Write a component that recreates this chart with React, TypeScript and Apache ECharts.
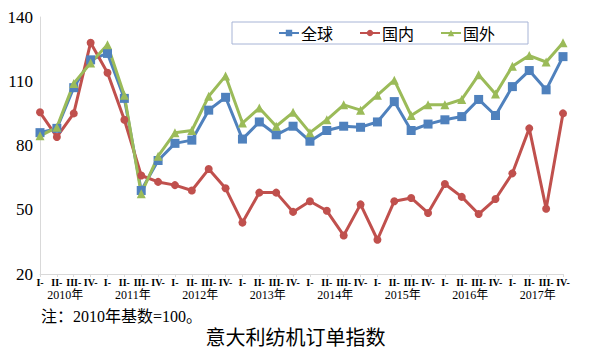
import React, { useEffect, useRef } from "react";
import * as echarts from "echarts";

const years = ["2010", "2011", "2012", "2013", "2014", "2015", "2016", "2017"];
const quarters = ["I-", "II-", "III-", "IV-"];
const categories: string[] = [];
years.forEach((y) => quarters.forEach((q) => categories.push(`${y}${q}`)));

const globalValues = [86, 88, 107, 120, 123, 102, 59, 73, 81, 82.5, 96.5, 102.5, 83, 91, 85, 89, 82, 87, 89, 88.5, 91, 100.5, 87, 90, 92, 93.5, 101.5, 94, 107.5, 115, 106, 121.5];
const domesticValues = [95.5, 84, 95, 128, 114, 92, 66, 63, 61.5, 59, 69, 60, 44, 58, 58, 49, 54, 49.5, 38, 52.5, 36, 54, 55.5, 48.5, 62, 56, 48, 55, 67, 88, 50.5, 95];
const foreignValues = [84.5, 88.5, 109, 118.5, 127, 103.5, 57.5, 75, 86, 87, 103, 112.5, 90.5, 97.5, 89, 95.5, 86, 92, 99, 96.5, 103.5, 110.5, 94, 99, 99, 101.5, 113, 104, 117, 122, 119, 128];

const seriesNames = ["全球", "国内", "国外"];
const noteText = "注：2010年基数=100。";
const titleText = "意大利纺机订单指数";

export default function App() {
  const ref = useRef<HTMLDivElement>(null);
  useEffect(() => {
    if (!ref.current) return;
    const chart = echarts.init(ref.current, undefined, { renderer: "svg" });
    const serif = "'Liberation Serif', 'Times New Roman', 'Noto Sans CJK SC', serif";
    chart.setOption({
      animation: false,
      backgroundColor: "#ffffff",
      title: [
        {
          text: titleText,
          left: "center",
          top: 321,
          textStyle: { fontSize: 20, fontWeight: "normal", color: "#000", fontFamily: "'Noto Sans CJK SC', sans-serif" },
        },
        {
          text: noteText,
          left: 36,
          top: 303,
          textStyle: { fontSize: 16, fontWeight: "normal", color: "#000", fontFamily: "'Liberation Serif', 'Noto Sans CJK SC', serif" },
        },
      ],
      legend: {
        data: seriesNames,
        left: 232,
        top: 22,
        padding: [3, 33, 3, 46],
        borderColor: "#A7B4D6",
        borderWidth: 1,
        itemWidth: 20,
        itemHeight: 8,
        itemGap: 26,
        textStyle: { fontSize: 16, color: "#000", fontFamily: "'Noto Sans CJK SC', sans-serif", padding: [0, 0, 0, -3] },
      },
      grid: { left: 40, right: 28, top: 17, bottom: 84, containLabel: false },
      xAxis: [
        {
          type: "category",
          data: categories,
          boundaryGap: false,
          axisLine: { lineStyle: { color: "#D9D9D9", width: 1 } },
          axisTick: { show: true, length: 3, lineStyle: { color: "#D9D9D9" }, interval: 0 },
          axisLabel: {
            interval: 0,
            margin: 3,
            fontSize: 10,
            fontWeight: "bold",
            color: "#000",
            fontFamily: serif,
            formatter: (v: string) => v.slice(4),
          },
        },
        {
          type: "category",
          data: categories,
          boundaryGap: false,
          position: "bottom",
          axisLine: { show: false },
          axisTick: { show: false },
          axisLabel: {
            interval: 0,
            margin: 15,
            color: "#000",
            formatter: (v: string, idx: number) => (idx % 4 === 1 ? `{y|${v.slice(0, 4)}年}` : ""),
            rich: {
              y: { fontSize: 12, fontFamily: serif, color: "#000", padding: [0, 0, 0, 17] },
            },
          },
        },
      ],
      yAxis: {
        type: "value",
        min: 20,
        max: 140,
        interval: 30,
        axisLine: { show: true, lineStyle: { color: "#D9D9D9", width: 1 } },
        axisTick: { show: false },
        splitLine: { show: false },
        axisLabel: { fontSize: 17, color: "#000", fontFamily: serif, margin: 7 },
      },
      series: [
        {
          name: seriesNames[0],
          type: "line",
          data: globalValues,
          color: "#4F81BD",
          lineStyle: { width: 3, color: "#4F81BD" },
          symbol: "rect",
          symbolSize: 9,
          itemStyle: { color: "#4F81BD" },
        },
        {
          name: seriesNames[1],
          type: "line",
          data: domesticValues,
          color: "#C0504D",
          lineStyle: { width: 3, color: "#C0504D" },
          symbol: "circle",
          symbolSize: 8,
          itemStyle: { color: "#C0504D" },
        },
        {
          name: seriesNames[2],
          type: "line",
          data: foreignValues,
          color: "#9BBB59",
          lineStyle: { width: 3, color: "#9BBB59" },
          symbol: "triangle",
          symbolSize: 9,
          itemStyle: { color: "#9BBB59" },
        },
      ],
    });
    return () => chart.dispose();
  }, []);
  return (
    <div
      ref={ref}
      style={{ position: "fixed", left: 0, top: 0, width: 591, height: 358, background: "#fff" }}
    />
  );
}
